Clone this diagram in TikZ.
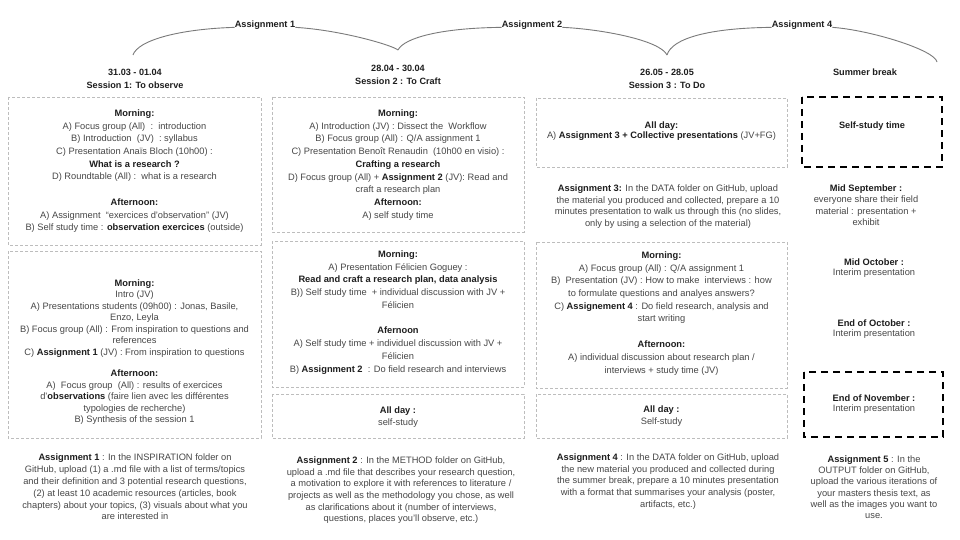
\documentclass[tikz,border=0pt]{standalone}
\usepackage{fontspec}
\setmainfont{Liberation Sans}
\definecolor{txt}{HTML}{474747}
\definecolor{bld}{HTML}{1E1E1E}
\definecolor{boxc}{HTML}{BDBDBD}
\definecolor{brc}{HTML}{7A7A7A}
\newcommand{\bt}[1]{\textbf{\textcolor{bld}{#1}}}
\begin{document}
\begin{tikzpicture}[x=1pt,y=-1pt,
  txtblk/.style={align=center, inner sep=0pt, anchor=north, text=txt, font=\fontsize{9.3}{#1}\selectfont},
  txtblk/.default=12,
  lbl/.style={inner sep=0pt, text=bld, font=\fontsize{9.2}{11}\selectfont\bfseries},
  hdr/.style={align=center, inner sep=0pt, anchor=north, text=bld, font=\fontsize{9.1}{#1}\selectfont\bfseries},
  boxd/.style={draw=boxc, line width=0.7pt, dash pattern=on 3pt off 2pt},
  boxk/.style={draw=black, line width=1.8pt, dash pattern=on 7pt off 5pt},
  brace/.style={draw=brc, line width=0.9pt}]
\useasboundingbox[fill=white] (0,0) rectangle (960,540);

% ---------- top braces ----------
\node[lbl] (a1) at (265,25) {Assignment 1};
\node[lbl] (a2) at (532,25) {Assignment 2};
\node[lbl] (a4) at (802,25) {Assignment 4};
\coordinate (t0) at (133,55);
\coordinate (t1) at (398,50);
\coordinate (t2) at (667,55);
\coordinate (t3) at (937,62);
\draw[brace] (t0) .. controls (138,40) and (180,29) .. (a1.base west);
\draw[brace] (a1.base east) .. controls (340,30) and (392,45) .. (t1);
\draw[brace] (t1) .. controls (404,38) and (440,28) .. (a2.base west);
\draw[brace] (a2.base east) .. controls (600,29) and (660,40) .. (t2);
\draw[brace] (t2) .. controls (672,38) and (710,28) .. (a4.base west);
\draw[brace] (a4.base east) .. controls (870,30) and (935,50) .. (t3);

% ---------- headers ----------
\node[hdr=13] (h1) at (135,68.5) {31.03 - 01.04\\Session 1: To observe};
\node[hdr=12.5] (h2) at (398,65) {28.04 - 30.04\\Session 2 : To Craft};
\node[hdr=13] (h3) at (667,68.5) {26.05 - 28.05\\Session 3 : To Do};
\node[lbl] (h4) at (865,72) {Summer break};

% ---------- column 1 ----------
\draw[boxd] (8,97) rectangle (261,245);
\draw[boxd] (8,251) rectangle (261,438);
\node[txtblk=12.7] (c1a) at (134.5,109.5) {\bt{Morning:}\\
A) Focus group (All)\ \ :\ \ introduction\\
B) Introduction\ \ (JV)\ \ : syllabus\\
C) Presentation Anaïs Bloch (10h00) :\\
\bt{What is a research ?}\\
D) Roundtable (All) :\ \ what is a research\\[12.7pt]
\bt{Afternoon:}\\
A) Assignment\ \ “exercices d’observation” (JV)\\
B) Self study time : \bt{observation exercices} (outside)};
\node[txtblk=11.5] (c1b) at (134.5,279.5) {\bt{Morning:}\\
Intro (JV)\\
A) Presentations students (09h00) : Jonas, Basile,\\
Enzo, Leyla\\
B) Focus group (All) : From inspiration to questions and\\
references\\
C) \bt{Assignment 1} (JV) : From inspiration to questions\\[10pt]
\bt{Afternoon:}\\
A)\ \ Focus group\ \ (All) : results of exercices\\
d’\bt{observations} (faire lien avec les différentes\\
typologies de recherche)\\
B) Synthesis of the session 1};
\node[txtblk=11.9] (as1) at (135,453.5) {\bt{Assignment 1} : In the INSPIRATION folder on\\
GitHub, upload (1) a .md file with a list of terms/topics\\
and their definition and 3 potential research questions,\\
(2) at least 10 academic resources (articles, book\\
chapters) about your topics, (3) visuals about what you\\
are interested in};

% ---------- column 2 ----------
\draw[boxd] (272,97) rectangle (524,232);
\draw[boxd] (272,241) rectangle (524,387);
\draw[boxd] (272,394) rectangle (524,438);
\node[txtblk=12.75] (c2a) at (398,109.5) {\bt{Morning:}\\
A) Introduction (JV) : Dissect the\ \ Workflow\\
B) Focus group (All) : Q/A assignment 1\\
C) Presentation Benoît Renaudin\ \ (10h00 en visio) :\\
\bt{Crafting a research}\\
D) Focus group (All) + \bt{Assignment 2} (JV): Read and\\
craft a research plan\\
\bt{Afternoon:}\\
A) self study time};
\node[txtblk=12.7] (c2b) at (398,250.5) {\bt{Morning:}\\
A) Presentation Félicien Goguey :\\
\bt{Read and craft a research plan, data analysis}\\
B)) Self study time\ \ + individual discussion with JV +\\
Félicien\\[13pt]
\bt{Afernoon}\\
A) Self study time + individuel discussion with JV +\\
Félicien\\
B) \bt{Assignment 2}\ \ : Do field research and interviews};
\node[txtblk=12] (c2c) at (398,406.5) {\bt{All day :}\\
self-study};
\node[txtblk=11.7] (as2) at (401,456.5) {\bt{Assignment 2} : In the METHOD folder on GitHub,\\
upload a .md file that describes your research question,\\
a motivation to explore it with references to literature /\\
projects as well as the methodology you chose, as well\\
as clarifications about it (number of interviews,\\
questions, places you’ll observe, etc.)};

% ---------- column 3 ----------
\draw[boxd] (536,98) rectangle (787,167);
\draw[boxd] (536,242) rectangle (787,388);
\draw[boxd] (536,394) rectangle (787,438);
\node[txtblk=10.5] (c3a) at (661.5,121.5) {\bt{All day:}\\
A) \bt{Assignment 3 + Collective presentations} (JV+FG)};
\node[txtblk=11.7] (as3) at (668,184.5) {\bt{Assignment 3:} In the DATA folder on GitHub, upload\\
the material you produced and collected, prepare a 10\\
minutes presentation to walk us through this (no slides,\\
only by using a selection of the material)};
\node[txtblk=12.7] (c3b) at (661.5,251.5) {\bt{Morning:}\\
A) Focus group (All) : Q/A assignment 1\\
B)\ \ Presentation (JV) : How to make\ \ interviews : how\\
to formulate questions and analyes answers?\\
C) \bt{Assignement 4} : Do field research, analysis and\\
start writing\\[13pt]
\bt{Afternoon:}\\
A) individual discussion about research plan /\\
interviews + study time (JV)};
\node[txtblk=12] (c3c) at (661.5,405.5) {\bt{All day :}\\
Self-study};
\node[txtblk=11.7] (as4) at (668,453.5) {\bt{Assignment 4} : In the DATA folder on GitHub, upload\\
the new material you produced and collected during\\
the summer break, prepare a 10 minutes presentation\\
with a format that summarises your analysis (poster,\\
artifacts, etc.)};

% ---------- column 4 ----------
\draw[boxk] (802,97) rectangle (942,167);
\draw[boxk] (804,372) rectangle (943,437);
\node[lbl] (c4a) at (872,126) {Self-study time};
\node[txtblk=11.3] (c4b) at (866,184.5) {\bt{Mid September :}\\
everyone share their field\\
material : presentation +\\
exhibit};
\node[txtblk=10.5] (c4c) at (874,258.5) {\bt{Mid October :}\\
Interim presentation};
\node[txtblk=10.5] (c4d) at (874,319.5) {\bt{End of October :}\\
Interim presentation};
\node[txtblk=10.5] (c4e) at (874,394.5) {\bt{End of November :}\\
Interim presentation};
\node[txtblk=11.2] (as5) at (874,455.5) {\bt{Assignment 5} : In the\\
OUTPUT folder on GitHub,\\
upload the various iterations of\\
your masters thesis text, as\\
well as the images you want to\\
use.};
\end{tikzpicture}
\end{document}
